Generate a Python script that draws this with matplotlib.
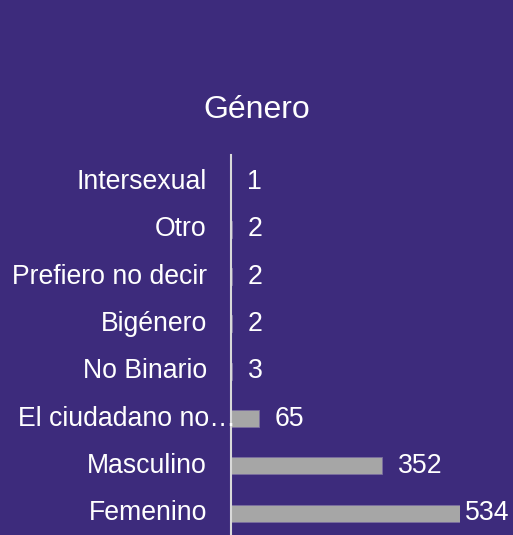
import matplotlib
matplotlib.use('Agg')
import matplotlib.pyplot as plt

# data, bottom to top
categories = ['Femenino', 'Masculino', 'El ciudadano no…', 'No Binario',
              'Bigénero', 'Prefiero no decir', 'Otro', 'Intersexual']
counts = [534, 352, 65, 3, 2, 2, 2, 1]

bg = '#3D2B7C'
plt.rcParams['font.family'] = ['Liberation Sans', 'DejaVu Sans']

fig = plt.figure(figsize=(5.13, 5.35), dpi=100, facecolor=bg)
W, H = 513.0, 535.0
ax = fig.add_axes([231 / W, 0, (460 - 231) / W, 380 / H])
ax.set_facecolor(bg)

y = list(range(len(categories)))
ax.barh(y, counts, height=0.36, color='#A6A6A6', edgecolor='#7B6FA0', linewidth=0.6)
ax.set_xlim(0, 534)
ax.set_ylim(-0.46, 7.57)

for s in ['top', 'right', 'bottom']:
    ax.spines[s].set_visible(False)
ax.spines['left'].set_color('#D9D9D9')
ax.spines['left'].set_linewidth(1.5)
ax.set_xticks([])
ax.set_yticks([])

# category labels
for i, name in enumerate(categories):
    off = 5 if name.endswith('…') else -24
    ax.annotate(name, xy=(0, i), xycoords=('axes fraction', 'data'),
                xytext=(off, 0), textcoords='offset pixels',
                ha='right', va='center', color='white', fontsize=19.2)

# value labels
for i, v in enumerate(counts):
    off = 5 if v == max(counts) else 16
    ax.annotate(str(v), xy=(v, i), xytext=(off, 0), textcoords='offset pixels',
                ha='left', va='center', color='white', fontsize=19.2,
                annotation_clip=False)

fig.text(0.5, (H - 110) / H, 'Género', ha='center', va='center',
         color='white', fontsize=23)

plt.savefig('out.png', dpi=100, facecolor=bg)
